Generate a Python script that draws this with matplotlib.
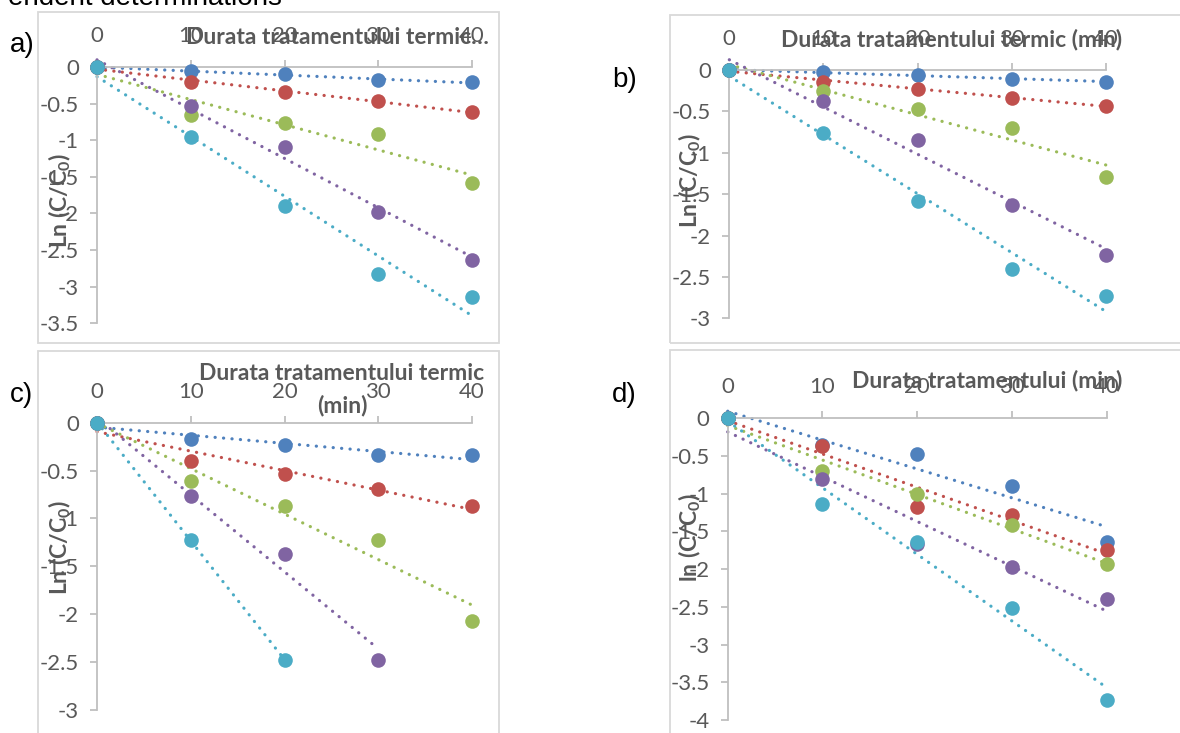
import matplotlib
matplotlib.use("Agg")
import matplotlib.pyplot as plt
import matplotlib.patches
import numpy as np
from matplotlib.ticker import FuncFormatter, MultipleLocator

plt.rcParams['axes.unicode_minus'] = False
plt.rcParams['mathtext.fontset'] = 'custom'
plt.rcParams['mathtext.rm'] = 'Lato'
plt.rcParams['mathtext.bf'] = 'Lato:bold'

# durata tratamentului (min)
time = [0, 10, 20, 30, 40]

# a)
a_blue = [0, -0.06, -0.10, -0.18, -0.21]
a_red = [0, -0.21, -0.34, -0.47, -0.61]
a_green = [0, -0.66, -0.77, -0.92, -1.59]
a_purple = [0, -0.53, -1.09, -1.98, -2.64]
a_cyan = [0, -0.95, -1.90, -2.83, -3.14]

# b)
b_blue = [0, -0.03, -0.06, -0.11, -0.14]
b_red = [0, -0.14, -0.23, -0.34, -0.43]
b_green = [0, -0.25, -0.47, -0.70, -1.29]
b_purple = [0, -0.38, -0.85, -1.63, -2.23]
b_cyan = [0, -0.76, -1.58, -2.41, -2.73]

# c)  (purple only up to 30 min, cyan up to 20 min)
c_blue = [0, -0.17, -0.23, -0.34, -0.34]
c_red = [0, -0.40, -0.54, -0.69, -0.87]
c_green = [0, -0.61, -0.87, -1.22, -2.07]
c_purple = [0, -0.77, -1.37, -2.48]
c_cyan = [0, -1.22, -2.48]

# d)
d_blue = [0, -0.35, -0.47, -0.90, -1.64]
d_red = [0, -0.37, -1.17, -1.28, -1.75]
d_green = [0, -0.70, -1.01, -1.41, -1.93]
d_purple = [0, -0.81, -1.67, -1.97, -2.39]
d_cyan = [0, -1.14, -1.64, -2.51, -3.73]

colors = ["#4F81BD", "#C0504D", "#9BBB59", "#8064A2", "#4BACC6"]
gray_txt = "#595959"
axis_col = "#BFBFBF"
frame_col = "#D9D9D9"

W, H = 1180, 733
fig = plt.figure(figsize=(W / 100, H / 100), dpi=100)


def fx(px):
    return px / W


def fy(py):
    return 1 - py / H


def frame(x0, y0, x1, y1):
    r = matplotlib.patches.Rectangle((fx(x0), fy(y1)), fx(x1 - x0), (y1 - y0) / H,
                                     transform=fig.transFigure, fill=False,
                                     edgecolor=frame_col, linewidth=1.3)
    fig.patches.append(r)


def panel(x0, x1, ytop, ybot, ymin, series):
    ax = fig.add_axes([fx(x0), fy(ybot), fx(x1 - x0), (ybot - ytop) / H])
    ax.set_xlim(0, 40)
    ax.set_ylim(ymin, 0)
    ax.patch.set_alpha(0)
    for s in ["right", "bottom"]:
        ax.spines[s].set_visible(False)
    for s in ["left", "top"]:
        ax.spines[s].set_color(axis_col)
        ax.spines[s].set_linewidth(1.3)
    ax.xaxis.set_ticks_position("top")
    ax.xaxis.set_label_position("top")
    ax.set_xticks(time)
    ax.yaxis.set_major_locator(MultipleLocator(0.5))
    ax.yaxis.set_major_formatter(FuncFormatter(lambda v, p: "%g" % v))
    ax.tick_params(axis="both", colors=axis_col, labelcolor=gray_txt,
                   labelsize=16, length=5, width=1.3)
    ax.tick_params(axis="x", pad=10)
    ax.tick_params(axis="y", pad=8)
    for lab in ax.get_xticklabels() + ax.get_yticklabels():
        lab.set_fontfamily("Lato")
    for vals, col in zip(series, colors):
        t = np.array(time[:len(vals)])
        v = np.array(vals)
        k, b = np.polyfit(t, v, 1)
        tt = np.array([t[0], t[-1]])
        ax.plot(tt, k * tt + b, color=col, linewidth=2.3,
                linestyle=(0, (0.05, 2.6)), dash_capstyle="round",
                clip_on=False, zorder=2)
    for vals, col in zip(series, colors):
        ax.plot(time[:len(vals)], vals, "o", color=col, markersize=10.5,
                markeredgewidth=0, clip_on=False, zorder=3)
    return ax


# chart frames
frame(38, 12, 499, 343)
frame(670, 15, 1190, 343)
frame(38, 351, 499, 745)
frame(670, 350, 1190, 745)

panel(97, 472, 67, 323.3, -3.5, [a_blue, a_red, a_green, a_purple, a_cyan])
panel(729.3, 1106, 70, 318.3, -3, [b_blue, b_red, b_green, b_purple, b_cyan])
panel(97, 472, 422.7, 710, -3, [c_blue, c_red, c_green, c_purple, c_cyan])
panel(727.7, 1106.7, 418.3, 720, -4, [d_blue, d_red, d_green, d_purple, d_cyan])

title_kw = dict(fontfamily="Lato", fontweight="bold", fontsize=16.5, color=gray_txt,
                ha="center", va="center")
fig.text(fx(337), fy(37), "Durata tratamentului termic…", **title_kw)
fig.text(fx(952), fy(40), "Durata tratamentului termic (min)", **title_kw)
fig.text(fx(342), fy(373), "Durata tratamentului termic", **title_kw)
fig.text(fx(342), fy(406), "(min)", **title_kw)
fig.text(fx(987), fy(380), "Durata tratamentului (min)", **title_kw)

ylab = r"Ln (C/C$_\mathbf{0}$)"
fig.text(fx(60), fy(200), ylab, rotation=90, **title_kw)
fig.text(fx(690), fy(180), ylab, rotation=90, **title_kw)
fig.text(fx(60), fy(547), ylab, rotation=90, **title_kw)
fig.text(fx(690), fy(537), r"ln (C/C$_\mathbf{0}$)", rotation=90, **title_kw)

lab_kw = dict(fontfamily="Liberation Sans", fontsize=20, color="black",
              ha="left", va="center")
fig.text(fx(10), fy(45), "a)", **lab_kw)
fig.text(fx(612), fy(80), "b)", **lab_kw)
fig.text(fx(10), fy(395), "c)", **lab_kw)
fig.text(fx(612), fy(395), "d)", **lab_kw)

# text of the page above the figure, cut off at the top
fig.text(fx(282), fy(5), "endent determinations", fontfamily="Liberation Sans",
         fontsize=20, color="black", ha="right", va="baseline")

fig.savefig("out.png", dpi=100)
